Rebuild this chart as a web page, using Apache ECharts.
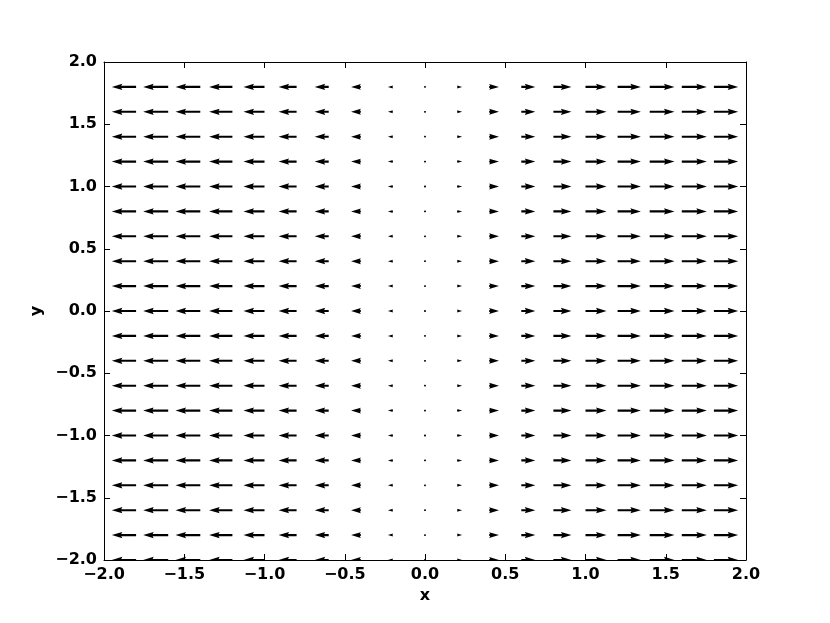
<!DOCTYPE html>
<html>
<head>
<meta charset="utf-8">
<script src="https://cdn.jsdelivr.net/npm/echarts@6/dist/echarts.min.js"></script>
<style>
  html, body { margin: 0; padding: 0; background: #fff; }
  #chart { width: 830px; height: 623px; }
</style>
</head>
<body>
<div id="chart"></div>
<script>
// grid of arrow tails
const xPoints = [-2.0, -1.8, -1.6, -1.4, -1.2, -1.0, -0.8, -0.6, -0.4, -0.2, 0.0, 0.2, 0.4, 0.6, 0.8, 1.0, 1.2, 1.4, 1.6, 1.8]
const yPoints = [-2.0, -1.8, -1.6, -1.4, -1.2, -1.0, -0.8, -0.6, -0.4, -0.2, 0.0, 0.2, 0.4, 0.6, 0.8, 1.0, 1.2, 1.4, 1.6, 1.8]
// horizontal component per column, vertical component is zero
const uValues = [-0.91, -0.97, -1.0, -0.99, -0.93, -0.84, -0.72, -0.56, -0.39, -0.2, 0.0, 0.2, 0.39, 0.56, 0.72, 0.84, 0.93, 0.99, 1.0, 0.97]
const vValues = [0, 0, 0, 0, 0, 0, 0, 0, 0, 0, 0, 0, 0, 0, 0, 0, 0, 0, 0, 0]
const tickLabels = [-2.0, -1.5, -1.0, -0.5, 0.0, 0.5, 1.0, 1.5, 2.0]

const arrowScale = 0.156 // data units per unit of vector
const shaftW = 2.1 // px

const quiverData = []
yPoints.forEach(y => {
  xPoints.forEach((x, i) => {
    quiverData.push([x, y, uValues[i], vValues[i]])
  })
})

// matplotlib-like arrow outline, in px
function arrowPolygon(p0, p1, w) {
  const dx = p1[0] - p0[0]
  const dy = p1[1] - p0[1]
  const len = Math.sqrt(dx * dx + dy * dy) / w
  const ang = Math.atan2(dy, dx)
  let pts
  if (len < 1) {
    pts = []
    for (let k = 0; k < 6; k++) {
      const th = k * Math.PI / 3
      pts.push([Math.cos(th) * 0.5, Math.sin(th) * 0.5])
    }
  } else if (len < 5) {
    const s = len / 5
    pts = [[0, 0.5], [0.5, 0.5], [0, 1.5], [5, 0], [0, -1.5], [0.5, -0.5], [0, -0.5]]
      .map(p => [p[0] * s, p[1] * s])
  } else {
    pts = [[0, 0.5], [len - 4.5, 0.5], [len - 5, 1.5], [len, 0], [len - 5, -1.5], [len - 4.5, -0.5], [0, -0.5]]
  }
  const c = Math.cos(ang), sn = Math.sin(ang)
  return pts.map(p => [
    p0[0] + (p[0] * c - p[1] * sn) * w,
    p0[1] + (p[0] * sn + p[1] * c) * w
  ])
}

const fmt = v => v.toFixed(1).replace('-', '\u2212')
const labelStyle = {
  color: '#000',
  fontFamily: 'DejaVu Sans',
  fontWeight: 'bold',
  fontSize: 16
}

function makeAxis(position, show, extra) {
  return Object.assign({
    type: 'value',
    min: tickLabels[0],
    max: tickLabels[tickLabels.length - 1],
    interval: 0.5,
    position: position,
    axisLine: { show: true, onZero: false, lineStyle: { color: '#000', width: 1 } },
    axisTick: { show: true, inside: true, length: 6, lineStyle: { color: '#000', width: 1 } },
    axisLabel: Object.assign({ show: show, formatter: fmt, margin: 7 }, labelStyle),
    splitLine: { show: false }
  }, extra || {})
}

const chart = echarts.init(document.getElementById('chart'))
chart.setOption({
  backgroundColor: '#fff',
  animation: false,
  grid: { left: 104, top: 62, width: 642, height: 498 },
  xAxis: [
    makeAxis('bottom', true, {
      name: 'x', nameLocation: 'middle', nameGap: 28, nameTextStyle: labelStyle
    }),
    makeAxis('top', false)
  ],
  yAxis: [
    makeAxis('left', true, {
      name: 'y', nameLocation: 'middle', nameGap: 58, nameTextStyle: labelStyle
    }),
    makeAxis('right', false)
  ],
  series: [
    {
      type: 'custom',
      xAxisIndex: 0,
      yAxisIndex: 0,
      clip: true,
      data: quiverData,
      renderItem: function (params, api) {
        const x = api.value(0)
        const y = api.value(1)
        const u = api.value(2)
        const v = api.value(3)
        const p0 = api.coord([x, y])
        const p1 = api.coord([x + u * arrowScale, y + v * arrowScale])
        return {
          type: 'polygon',
          shape: { points: arrowPolygon(p0, p1, shaftW) },
          style: { fill: '#000' }
        }
      }
    }
  ]
})
</script>
</body>
</html>
